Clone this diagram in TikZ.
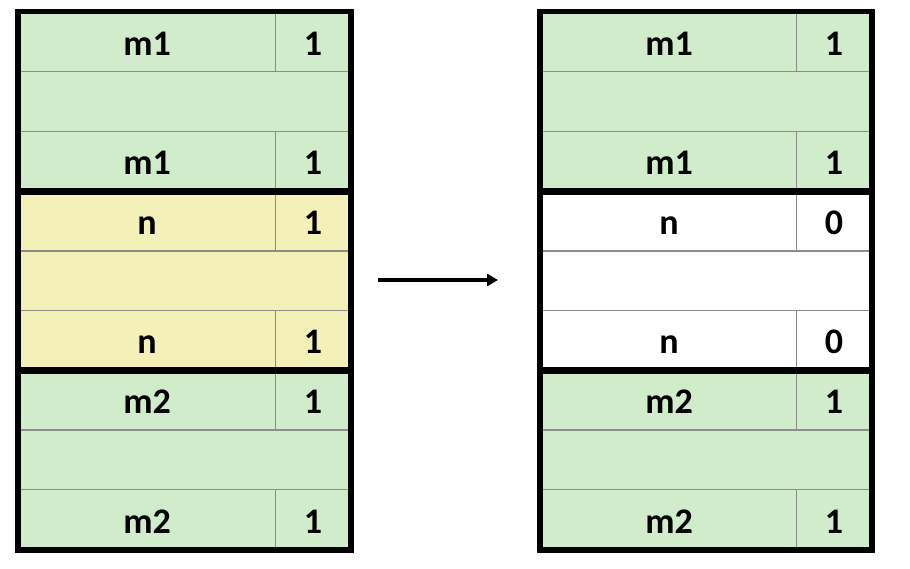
\documentclass[tikz,border=0pt]{standalone}
\usepackage{fontspec}
\setmainfont{Carlito}
\usetikzlibrary{arrows.meta}
\definecolor{blkgreen}{HTML}{D0ECCA}
\definecolor{blkyellow}{HTML}{F3F0B8}
\definecolor{gridgray}{HTML}{8C8C8C}

\begin{document}
\begin{tikzpicture}[x=1pt, y=-1pt, every node/.style={font=\bfseries\fontsize{36}{36}\selectfont}]
  \tikzstyle{cell} = [rectangle, draw=gridgray, line width=1.2pt, minimum height=59.7pt,
                      inner sep=0pt, anchor=north west, text depth=0pt, text height=27pt]
  \tikzstyle{body} = [cell, minimum width=257pt]
  \tikzstyle{tag} = [cell, minimum width=75pt]
  \tikzstyle{pad} = [cell, minimum width=332pt]
  \tikzstyle{frame} = [line width=5.5pt]
  \tikzstyle{arrow} = [line width=3.5pt, -{Triangle[length=11pt, width=12pt]}]
  \useasboundingbox (0,0) rectangle (910,568);
  % before coalescing
  \foreach \i/\lab/\bit/\col in {0/m1/1/blkgreen, 2/m1/1/blkgreen, 3/n/1/blkyellow,
                                 5/n/1/blkyellow, 6/m2/1/blkgreen, 8/m2/1/blkgreen} {
    \node (lb\i) [body, fill=\col] at (18, 11.5+59.7*\i) {\lab};
    \node (lt\i) [tag, fill=\col] at (275, 11.5+59.7*\i) {\bit};
  }
  \foreach \i/\col in {1/blkgreen, 4/blkyellow, 7/blkgreen}
    \node (lp\i) [pad, fill=\col] at (18, 11.5+59.7*\i) {};
  % after coalescing
  \foreach \i/\lab/\bit/\col in {0/m1/1/blkgreen, 2/m1/1/blkgreen, 3/n/0/white,
                                 5/n/0/white, 6/m2/1/blkgreen, 8/m2/1/blkgreen} {
    \node (rb\i) [body, fill=\col] at (540, 11.5+59.7*\i) {\lab};
    \node (rt\i) [tag, fill=\col] at (796, 11.5+59.7*\i) {\bit};
  }
  \foreach \i/\col in {1/blkgreen, 4/white, 7/blkgreen}
    \node (rp\i) [pad, fill=\col] at (540, 11.5+59.7*\i) {};
  % block outlines
  \draw [frame] (lb0.north west) rectangle (lt2.south east);
  \draw [frame] (lb3.north west) rectangle (lt5.south east);
  \draw [frame] (lb6.north west) rectangle (lt8.south east);
  \draw [frame] (rb0.north west) rectangle (rt2.south east);
  \draw [frame] (rb3.north west) rectangle (rt5.south east);
  \draw [frame] (rb6.north west) rectangle (rt8.south east);
  \coordinate (from) at (378, 280);
  \coordinate (to) at (498, 280);
  \draw [arrow] (from) -- (to);
\end{tikzpicture}
\end{document}
